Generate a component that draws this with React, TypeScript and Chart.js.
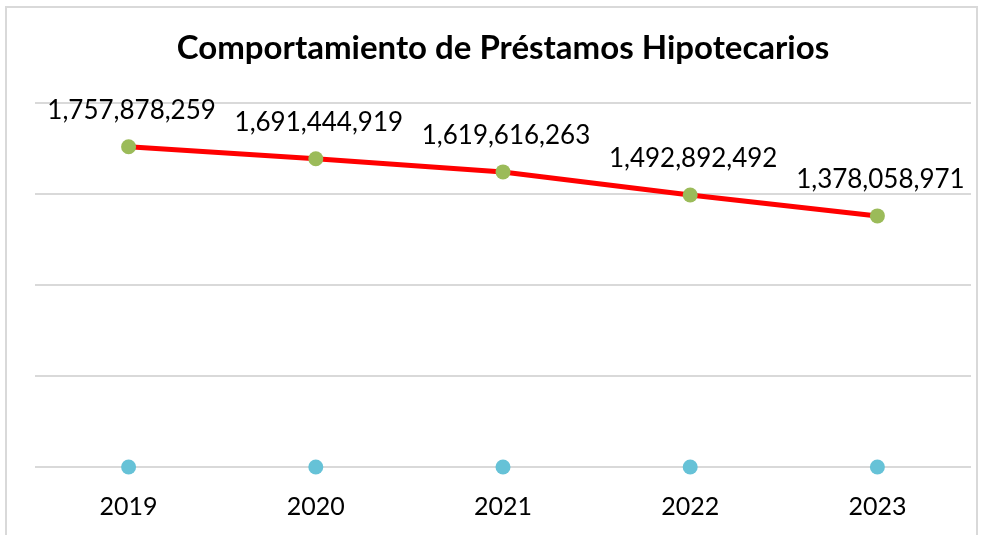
import React, { useEffect, useRef } from "react";
import { Chart, registerables } from "chart.js";

Chart.register(...registerables);

const categories = ["2019", "2020", "2021", "2022", "2023"];
const prestamos = [1757878259, 1691444919, 1619616263, 1492892492, 1378058971];
const baseSeries = [0, 0, 0, 0, 0];
const titleText = "Comportamiento de Préstamos Hipotecarios";
const yMin = 0;
const yMax = 2000000000;
const yStep = 500000000;

const FONT = "Lato, 'Open Sans', sans-serif";

const fmt = (v: number) => v.toLocaleString("en-US");

const dataLabelPlugin = {
  id: "dataLabels",
  afterDatasetsDraw(chart: any) {
    const ctx = chart.ctx;
    const meta = chart.getDatasetMeta(0);
    ctx.save();
    ctx.font = `26px ${FONT}`;
    ctx.fillStyle = "#000000";
    ctx.textAlign = "center";
    ctx.textBaseline = "middle";
    meta.data.forEach((pt: any, i: number) => {
      ctx.fillText(fmt(prestamos[i]), pt.x + 3, pt.y - 36);
    });
    ctx.restore();
  },
};

export default function App() {
  const ref = useRef<HTMLCanvasElement | null>(null);
  useEffect(() => {
    document.body.style.margin = "0";
    const c = new Chart(ref.current!, {
      type: "line",
      data: {
        labels: categories,
        datasets: [
          {
            data: prestamos,
            borderColor: "#FF0000",
            borderWidth: 5,
            pointBackgroundColor: "#9BBB59",
            pointBorderColor: "#9BBB59",
            pointRadius: 7.5,
            pointBorderWidth: 0,
            tension: 0,
            clip: false,
          },
          {
            data: baseSeries,
            showLine: false,
            pointBackgroundColor: "#66C2D7",
            pointBorderColor: "#66C2D7",
            pointRadius: 7.5,
            pointBorderWidth: 0,
            clip: false,
          },
        ],
      },
      options: {
        animation: false,
        responsive: false,
        layout: { padding: { left: 35, right: 17, top: 16, bottom: -12 } },
        plugins: {
          legend: { display: false },
          tooltip: { enabled: false },
          title: {
            display: true,
            text: titleText,
            color: "#000000",
            font: { family: FONT, size: 33, weight: "bold" },
            padding: { top: 13, bottom: 34 },
          },
        },
        scales: {
          x: {
            offset: true,
            grid: { display: false, drawTicks: false },
            border: { display: false },
            ticks: {
              color: "#000000",
              font: { family: FONT, size: 25 },
              padding: 25,
            },
          },
          y: {
            min: yMin,
            max: yMax,
            ticks: { display: false, stepSize: yStep },
            grid: { color: "#D9D9D9", lineWidth: 2, drawTicks: false },
            border: { display: false },
          },
        },
      },
      plugins: [dataLabelPlugin],
    });
    return () => c.destroy();
  }, []);
  return (
    <div style={{ position: "relative", width: 988, height: 535, background: "#fff", overflow: "hidden" }}>
      <div
        style={{
          position: "absolute",
          left: 5,
          top: 6,
          width: 973,
          height: 560,
          border: "2px solid #D9D9D9",
          boxSizing: "border-box",
        }}
      />
      <canvas ref={ref} width={988} height={535} style={{ position: "absolute", left: 0, top: 0 }} />
    </div>
  );
}
